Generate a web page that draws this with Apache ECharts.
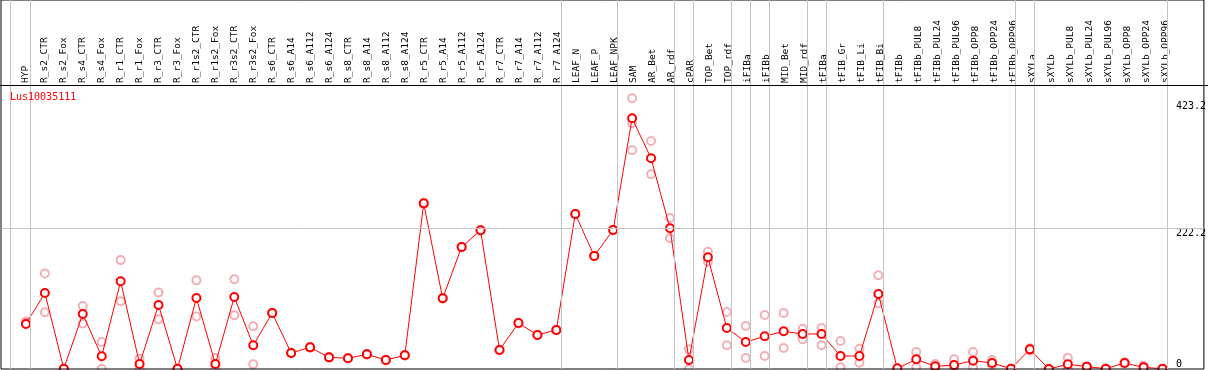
<!DOCTYPE html>
<html>
<head>
<meta charset="utf-8">
<script src="https://cdn.jsdelivr.net/npm/echarts@6/dist/echarts.min.js"></script>
<style>
html,body{margin:0;padding:0;background:#fff;}
#c{width:1209px;height:370px;}
</style>
</head>
<body>
<div id="c"></div>
<script>
const title = 'Lus10035111';
const categories = ['HYP','R_s2_CTR','R_s2_Fox','R_s4_CTR','R_s4_Fox','R_r1_CTR','R_r1_Fox','R_r3_CTR','R_r3_Fox','R_r1s2_CTR','R_r1s2_Fox','R_r3s2_CTR','R_r3s2_Fox','R_s6_CTR','R_s6_A14','R_s6_A112','R_s6_A124','R_s8_CTR','R_s8_A14','R_s8_A112','R_s8_A124','R_r5_CTR','R_r5_A14','R_r5_A112','R_r5_A124','R_r7_CTR','R_r7_A14','R_r7_A112','R_r7_A124','LEAF_N','LEAF_P','LEAF_NPK','SAM','AR_Bet','AR_rdf','cPAR','TOP_Bet','TOP_rdf','iFIBa','iFIBb','MID_Bet','MID_rdf','tFIBa','tFIB_Gr','tFIB_Li','tFIB_Bi','tFIBb','tFIBb_PUL8','tFIBb_PUL24','tFIBb_PUL96','tFIBb_OPP8','tFIBb_OPP24','tFIBb_OPP96','sXYLa','sXYLb','sXYLb_PUL8','sXYLb_PUL24','sXYLb_PUL96','sXYLb_OPP8','sXYLb_OPP24','sXYLb_OPP96'];
const groupSizes = [1,28,3,3,1,2,1,1,2,1,3,7,1,7];
const meanValues = [71,120,0.5,87,20,138.5,8,101,0.3,112,8,113.7,37.4,88.4,25.3,34.2,18.4,16.9,23.2,14.2,21.6,261.6,111.6,192.7,219,30,72.6,53.7,61.6,244.8,178.5,219.5,396,332.7,222.2,14.2,176.4,64.7,42.6,51.6,59.5,55.3,55.3,20.5,20.5,118.4,1,15.3,4.2,6.3,13.2,9.5,0.5,31,0,7.4,3.7,0.5,9.5,2.6,0.5];
const rep1 = [75,151,0,99.5,42.6,172,16.3,121,0,140,17.4,141.6,67.4,89,26,35,19,17.5,24,15,22,262,112,193,219.5,30.5,73,54,62,245,179,220,427.5,360,238.5,31,185.3,90,67.9,85.3,88.4,63.7,64.7,44.2,32,148,0.5,26.8,7.9,15.3,26.8,14.2,0.5,32.7,0,17.9,4,0.5,10.5,5.3,0.5];
const rep2 = [73,89.5,0,72,0.5,107,0,78.5,0,83,0,84.8,7.4,88,25,33.5,18,16.5,22.5,13.5,21,261,111,192,218.5,29.5,72,53.4,61,244.5,178,219,345.4,307.5,206.4,0,169.5,37.4,17.4,20.5,33.2,46.9,37.4,2.6,10,103.7,0.5,2.6,0.5,1,2.6,6.3,0.5,29,0,0,3.5,0.5,8.5,0,0.5];
const rep3 = {32: 388};
const yLabelValues = [222.2, 423.2];
const yZeroLabel = [0];
const gridLineValue = 222.2;

// layout constants (pixels)
const X0 = 26, STEP = 19, PLOT_BOTTOM = 369, PX_PER_UNIT = 0.6332;
const xMin = (1 - X0) / STEP, xMax = (1207.5 - X0) / STEP;
const yMax = PLOT_BOTTOM / PX_PER_UNIT;
const SEP_OFF = 4.5 / STEP;

const sepPositions = [];
let acc = -1;
sepPositions.push(acc + SEP_OFF - 1 / STEP);
groupSizes.forEach(s => { acc += s; sepPositions.push(acc + SEP_OFF); });

const meanData = meanValues.map((v, i) => [i, v]);
const repData = [];
rep1.forEach((v, i) => { if (v != null) repData.push([i, v]); });
rep2.forEach((v, i) => { if (v != null) repData.push([i, v]); });
Object.keys(rep3).forEach(k => repData.push([+k, rep3[k]]));

const FONT = "'DejaVu Sans Mono', monospace";
const chart = echarts.init(document.getElementById('c'), null, {renderer: 'canvas'});
chart.setOption({
  animation: false,
  backgroundColor: '#fff',
  grid: [
    {left: 1, right: 1.5, top: 0, bottom: 1, show: true, borderColor: '#000', borderWidth: 1, backgroundColor: 'transparent', z: 5},
    {left: X0 - STEP/2, right: 1209 - (X0 + STEP*60 + STEP/2), top: 86, bottom: 1}
  ],
  title: {
    text: title, left: 5, top: 87,
    textStyle: {color: '#ff0000', fontSize: 10, fontWeight: 'normal', fontFamily: FONT}
  },
  xAxis: [
    {type: 'value', gridIndex: 0, min: xMin, max: xMax, show: false, splitLine: {show: false}},
    {type: 'category', gridIndex: 1, position: 'top', data: categories, boundaryGap: true,
     axisLine: {show: false}, axisTick: {show: false}, splitLine: {show: false},
     axisLabel: {interval: 0, rotate: 90, margin: 3, color: '#000', fontSize: 9.5, fontFamily: FONT}}
  ],
  yAxis: [
    {type: 'value', gridIndex: 0, min: 0, max: yMax, position: 'right',
     axisLine: {show: false}, axisTick: {show: false}, splitLine: {show: false},
     axisLabel: {inside: true, customValues: yLabelValues, align: 'left', verticalAlign: 'top', margin: 28,
       color: '#000', fontSize: 10, fontFamily: FONT, formatter: v => String(v)}},
    {type: 'value', gridIndex: 0, min: 0, max: yMax, position: 'right',
     axisLine: {show: false}, axisTick: {show: false}, splitLine: {show: false},
     axisLabel: {inside: true, customValues: yZeroLabel, align: 'left', verticalAlign: 'bottom', margin: 28,
       color: '#000', fontSize: 10, fontFamily: FONT, formatter: v => String(v)}},
    {type: 'value', gridIndex: 1, show: false}
  ],
  graphic: [
    {type: 'line', shape: {x1: 0, y1: 85.5, x2: 1208, y2: 85.5}, style: {stroke: '#000', lineWidth: 1}, z: 10, silent: true}
  ],
  series: [
    {
      type: 'scatter', xAxisIndex: 0, yAxisIndex: 0, data: [], silent: true,
      markLine: {
        silent: true, symbol: 'none', label: {show: false}, animation: false,
        lineStyle: {color: '#c4c4c4', width: 1, type: 'solid'},
        data: sepPositions.map(p => ({xAxis: p})).concat([{yAxis: gridLineValue}])
      }
    },
    {
      type: 'scatter', xAxisIndex: 0, yAxisIndex: 0, data: repData, silent: true,
      symbol: 'emptyCircle', symbolSize: 8,
      itemStyle: {color: '#f29aa2', borderColor: '#f29aa2', borderWidth: 1.3}, z: 3
    },
    {
      type: 'line', xAxisIndex: 0, yAxisIndex: 0, data: meanData, silent: true,
      symbol: 'emptyCircle', symbolSize: 8, showAllSymbol: true,
      lineStyle: {color: '#ff0000', width: 1},
      itemStyle: {color: '#ff0000', borderColor: '#ff0000', borderWidth: 1.3}, z: 4
    }
  ]
});
</script>
</body>
</html>
